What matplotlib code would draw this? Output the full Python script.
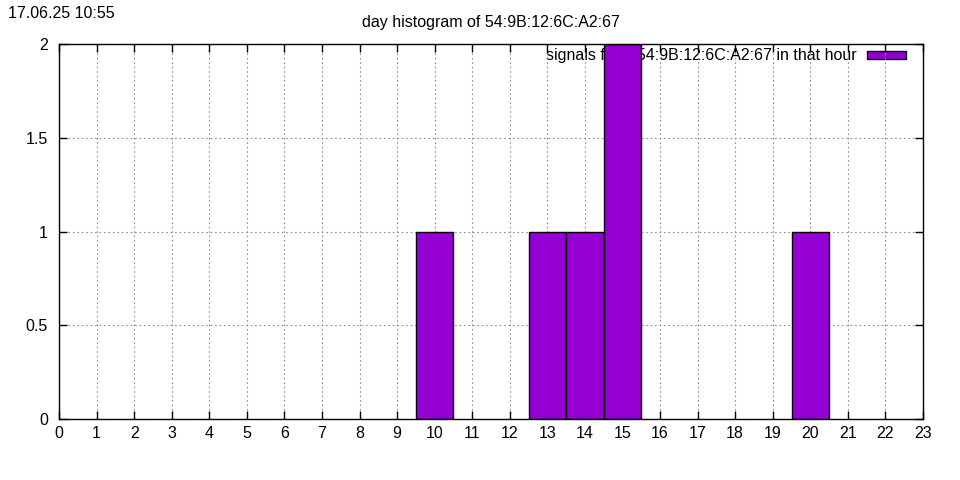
import matplotlib
matplotlib.use("Agg")
import matplotlib.pyplot as plt
from matplotlib.patches import Patch

plt.rcParams["font.family"] = ["Liberation Sans", "DejaVu Sans"]

hours = [10, 13, 14, 15, 20]
counts = [1, 1, 1, 2, 1]
x_ticks = list(range(0, 24))
y_ticks = [0, 0.5, 1, 1.5, 2]
y_labels = ["0", "0.5", "1", "1.5", "2"]
device = "54:9B:12:6C:A2:67"
stamp = "17.06.25 10:55"
bar_color = "#9400d3"

fig = plt.figure(figsize=(9.6, 4.8), dpi=100)
ax = fig.add_axes([59 / 960, 61 / 480, 864 / 960, 375 / 480])

ax.bar(hours, counts, width=1.0, color=bar_color, edgecolor="black",
       linewidth=1, zorder=3)

ax.set_xlim(0, 23)
ax.set_ylim(0, 2)
ax.set_xticks(x_ticks)
ax.set_yticks(y_ticks)
ax.set_yticklabels(y_labels)
ax.tick_params(direction="in", length=6, width=1, top=True, right=True,
               labelsize=11.5, pad=5)
ax.tick_params(axis="y", pad=8)
ax.grid(True, color="#909090", linestyle=(0, (1.5, 2.5)), linewidth=0.8,
        zorder=0)
for s in ax.spines.values():
    s.set_linewidth(1)
    s.set_zorder(4)

# legend sits under the bars, like gnuplot's key
handle = Patch(facecolor=bar_color, edgecolor="black", linewidth=1)
leg = ax.legend([handle], ["signals from " + device + " in that hour"],
                loc="upper right", frameon=False, markerfirst=False,
                handlelength=2.45, handleheight=0.4, handletextpad=0.6,
                fontsize=11.5, borderaxespad=0.2, bbox_to_anchor=(0.991, 1.014))
leg.set_zorder(1)

ax.set_title("day histogram of " + device, fontsize=11.5, pad=12)
fig.text(8 / 960, 1 - 13 / 480, stamp, fontsize=11.5, va="center", ha="left")

fig.savefig("out.png", dpi=100)
